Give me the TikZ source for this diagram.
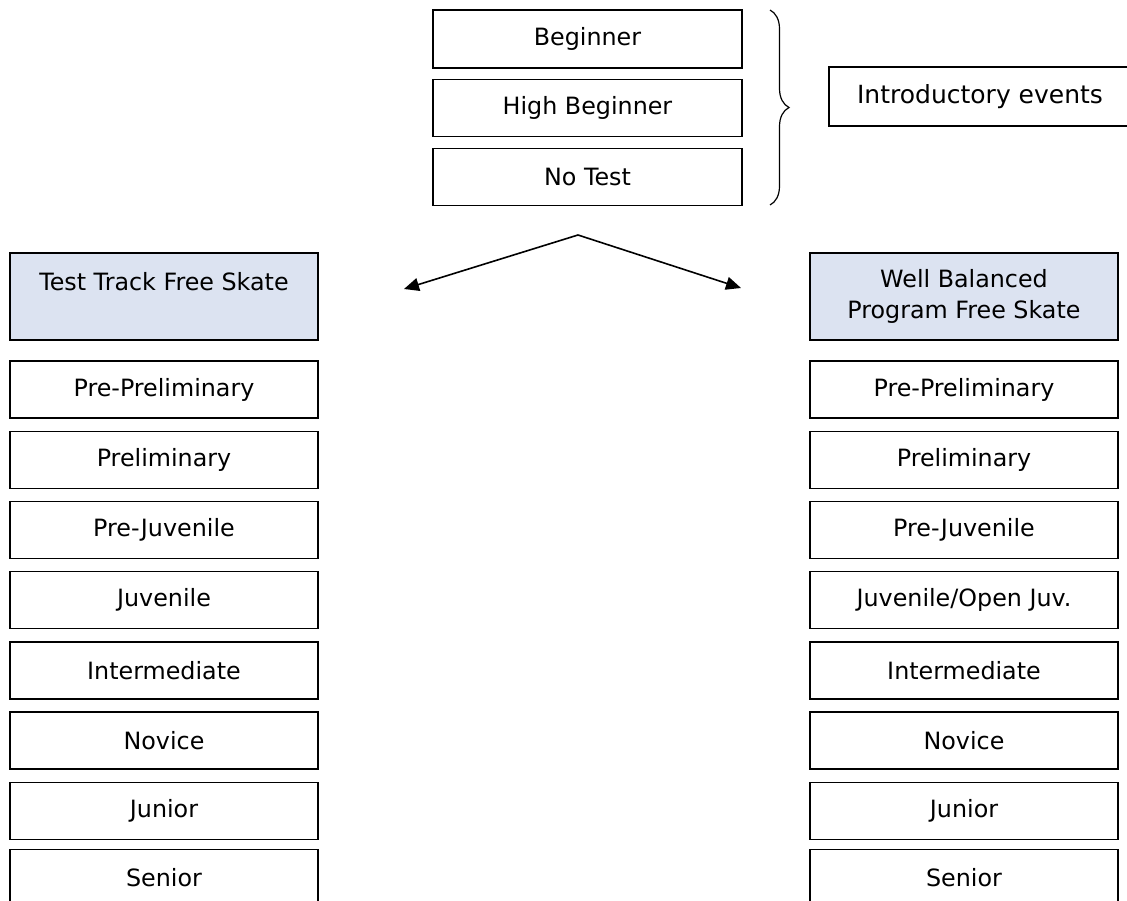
\documentclass[tikz,border=0pt]{standalone}
\usepackage{fontspec}
\setmainfont{DejaVu Sans}
\usetikzlibrary{positioning,arrows.meta,decorations.pathreplacing}

\definecolor{headblue}{RGB}{220,227,241}

\begin{document}
\begin{tikzpicture}[x=1pt,y=-1pt,node distance=11.8pt,>={Triangle[length=15pt,width=13pt]}]

\tikzstyle{level}=[draw=black,line width=1.4pt,minimum width=308pt,minimum height=57pt,inner sep=0pt,align=center,font=\fontsize{23.8}{31}\selectfont]
\tikzstyle{track}=[level,fill=headblue,line width=1.9pt,minimum height=87pt]

\useasboundingbox (0,0) rectangle (1127,900);

% introductory events
\node[level,minimum width=309pt,minimum height=58pt] (beg) at (587.5,39) {Beginner};
\node[level,minimum width=309pt] (hbeg) [below=10pt of beg]  {High Beginner};
\node[level,minimum width=309pt] (notest) [below=10.5pt of hbeg] {No Test};
\node[level,minimum width=302pt,minimum height=59pt,font=\fontsize{25}{31}\selectfont] (intro) at (980,96.5) {Introductory events};

\coordinate (bt) at (770,10);
\coordinate (bb) at (770,205);
\draw[line width=1.2pt,decorate,decoration={brace,amplitude=19pt}] (bt) -- (bb);

% the two tracks
\node[track] (tt) at (164,296.5) {Test Track Free Skate\\\mbox{}};
\node[track] (wb) at (964,296.5) {Well Balanced\\Program Free Skate};

\coordinate (split) at (578,235);
\coordinate (ttin) at (404,289);
\coordinate (wbin) at (741,288);
\draw[->,line width=1.6pt] (split) -- (ttin);
\draw[->,line width=1.6pt] (split) -- (wbin);

% test track levels
\node[level] (l1) [below=19.4pt of tt] {Pre-Preliminary};
\node[level] (l2) [below=of l1]     {Preliminary};
\node[level] (l3) [below=of l2]     {Pre-Juvenile};
\node[level] (l4) [below=of l3]     {Juvenile};
\node[level] (l5) [below=of l4]     {Intermediate};
\node[level] (l6) [below=of l5]     {Novice};
\node[level] (l7) [below=of l6]     {Junior};
\node[level] (l8) [below=8.6pt of l7] {Senior};

% well balanced levels
\node[level] (r1) [below=19.4pt of wb] {Pre-Preliminary};
\node[level] (r2) [below=of r1]     {Preliminary};
\node[level] (r3) [below=of r2]     {Pre-Juvenile};
\node[level] (r4) [below=of r3]     {Juvenile/Open Juv.};
\node[level] (r5) [below=of r4]     {Intermediate};
\node[level] (r6) [below=of r5]     {Novice};
\node[level] (r7) [below=of r6]     {Junior};
\node[level] (r8) [below=8.6pt of r7] {Senior};

\end{tikzpicture}
\end{document}
